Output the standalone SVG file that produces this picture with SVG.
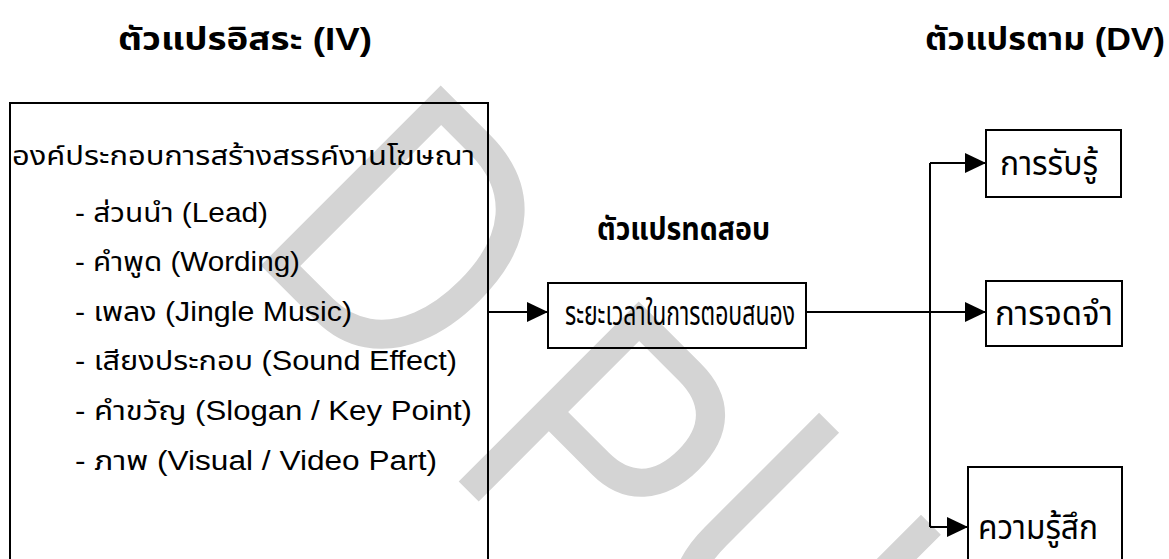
<svg xmlns="http://www.w3.org/2000/svg" width="1169" height="559" viewBox="0 0 1169 559">
<defs>
<marker id="ah" markerUnits="userSpaceOnUse" markerWidth="22" markerHeight="20" refX="21" refY="10" orient="auto"><path d="M0,0 L21,10 L0,20 z" fill="#000"/></marker>
</defs>
<style>
.t{font-family:'Liberation Sans','Noto Sans Thai','Noto Sans',sans-serif;fill:#000}
.h{font-size:32px;font-weight:bold}
.b{font-size:27px}
.m{font-size:34px}
.box{fill:none;stroke:#000;stroke-width:2}
.c{fill:none;stroke:#000;stroke-width:2}
.wm{font-family:'Liberation Sans',sans-serif;font-size:370px;fill:#d4d4d4}
</style>
<rect width="1169" height="559" fill="#fff"/>
<g id="watermark">
<text class="wm" transform="translate(447 77) rotate(45) scale(0.82 1)" x="-28.5" y="265">D</text>
<text class="wm" transform="translate(645 293) rotate(45) scale(0.82 1)" x="-28.5" y="265">P</text>
<text class="wm" transform="translate(827 406) rotate(45) scale(0.82 1)" x="-29.5" y="265">U</text>
</g>
<g id="iv-title"><text class="t h" x="118" y="50" textLength="254" lengthAdjust="spacingAndGlyphs">ตัวแปรอิสระ  (IV)</text></g>
<g id="dv-title"><text class="t h" x="925" y="50" textLength="240" lengthAdjust="spacingAndGlyphs">ตัวแปรตาม  (DV)</text></g>
<g id="iv-box">
<rect class="box" x="10" y="103" width="478" height="480"/>
<text class="t b" x="12" y="165" textLength="463" lengthAdjust="spacingAndGlyphs">องค์ประกอบการสร้างสรรค์งานโฆษณา</text>
<text class="t b" x="75" y="222" textLength="193" lengthAdjust="spacingAndGlyphs">- ส่วนนำ (Lead)</text>
<text class="t b" x="75" y="271" textLength="225" lengthAdjust="spacingAndGlyphs">- คำพูด (Wording)</text>
<text class="t b" x="75" y="321" textLength="277" lengthAdjust="spacingAndGlyphs">- เพลง (Jingle Music)</text>
<text class="t b" x="75" y="370" textLength="382" lengthAdjust="spacingAndGlyphs">- เสียงประกอบ (Sound Effect)</text>
<text class="t b" x="75" y="420" textLength="397" lengthAdjust="spacingAndGlyphs">- คำขวัญ (Slogan / Key Point)</text>
<text class="t b" x="75" y="470" textLength="362" lengthAdjust="spacingAndGlyphs">- ภาพ (Visual / Video Part)</text>
</g>
<g id="test-title"><text class="t h" x="597" y="240" textLength="173" lengthAdjust="spacingAndGlyphs">ตัวแปรทดสอบ</text></g>
<g id="mediator">
<rect class="box" x="548" y="283" width="258" height="65"/>
<text class="t m" x="565" y="325" textLength="230" lengthAdjust="spacingAndGlyphs">ระยะเวลาในการตอบสนอง</text>
</g>
<g id="dv-perception">
<rect class="box" x="986" y="130" width="135" height="67"/>
<text class="t m" x="1000" y="175" textLength="98" lengthAdjust="spacingAndGlyphs">การรับรู้</text>
</g>
<g id="dv-memory">
<rect class="box" x="986" y="281" width="136" height="65"/>
<text class="t m" x="995" y="325" textLength="118" lengthAdjust="spacingAndGlyphs">การจดจำ</text>
</g>
<g id="dv-feeling">
<rect class="box" x="968" y="467" width="154" height="110"/>
<text class="t m" x="978" y="539" textLength="120" lengthAdjust="spacingAndGlyphs">ความรู้สึก</text>
</g>
<g id="connectors">
<path class="c" d="M488,312 H548" marker-end="url(#ah)"/>
<path class="c" d="M806,312 H986" marker-end="url(#ah)"/>
<path class="c" d="M930,163 V527"/>
<path class="c" d="M930,163 H986" marker-end="url(#ah)"/>
<path class="c" d="M930,527 H968" marker-end="url(#ah)"/>
</g>
</svg>
